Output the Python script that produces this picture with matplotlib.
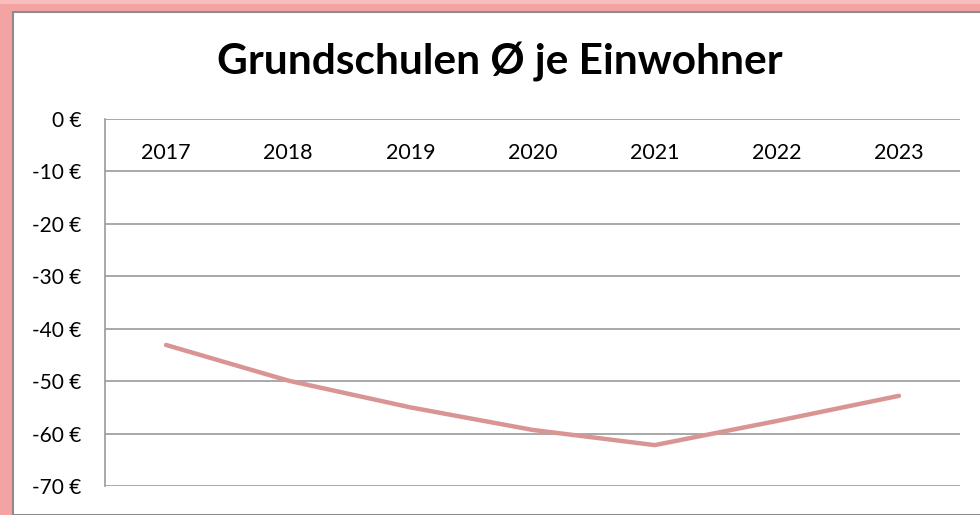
import matplotlib
matplotlib.use("Agg")
import matplotlib.pyplot as plt
from matplotlib.patches import Rectangle

# Data
years = ["2017", "2018", "2019", "2020", "2021", "2022", "2023"]
values = [-43.1, -49.9, -55.0, -59.3, -62.2, -57.6, -52.8]
y_ticks = [0, -10, -20, -30, -40, -50, -60, -70]
y_tick_labels = [f"{v} €" for v in y_ticks]
title = "Grundschulen Ø je Einwohner"

W, H = 980, 515
fig = plt.figure(figsize=(W / 100, H / 100), dpi=100)
fig.patch.set_facecolor("#F4A3A3")

# white chart area with a grey edge inside the pink frame
frame = Rectangle((13 / W, 0.0), 1.0, (H - 12) / H, transform=fig.transFigure,
                  facecolor="white", edgecolor="#8C8C8C", linewidth=1.5, zorder=-2)
fig.patches.append(frame)
# lighter strip along the top edge of the frame
fig.patches.append(Rectangle((0, (H - 4) / H), 1.0, 4 / H, transform=fig.transFigure,
                             facecolor="#F8BDBD", edgecolor="none", zorder=-2))

ax = fig.add_axes([105 / W, (H - 486) / H, (960 - 105) / W, (486 - 119) / H])
ax.set_zorder(2)
ax.set_facecolor("none")

x = list(range(len(years)))
ax.plot(x, values, color="#D99594", linewidth=3.2, solid_capstyle="round",
        solid_joinstyle="round", zorder=3)

ax.set_xlim(-0.5, len(years) - 0.5)
ax.set_ylim(-70, 0)
ax.set_yticks(y_ticks)
ax.set_yticklabels(y_tick_labels)
ax.set_xticks(x)
ax.set_xticklabels(years)

ax.xaxis.tick_top()
ax.tick_params(axis="x", length=0, pad=-32, labelsize=15.5)
ax.tick_params(axis="y", length=0, pad=17, labelsize=15)
for lab in ax.get_xticklabels() + ax.get_yticklabels():
    lab.set_fontfamily("Lato")

ax.grid(axis="y", color="#9A9A9A", linewidth=1.2)
ax.set_axisbelow(True)
for side in ("right", "bottom", "top"):
    ax.spines[side].set_visible(False)
ax.spines["left"].set_color("#9A9A9A")
ax.spines["left"].set_linewidth(1.2)

fig.text(500 / W, (H - 62) / H, title, ha="center", va="center",
         fontsize=30.5, fontweight="bold", fontfamily="Lato", zorder=3)

fig.savefig("out.png", dpi=100, facecolor=fig.get_facecolor())
